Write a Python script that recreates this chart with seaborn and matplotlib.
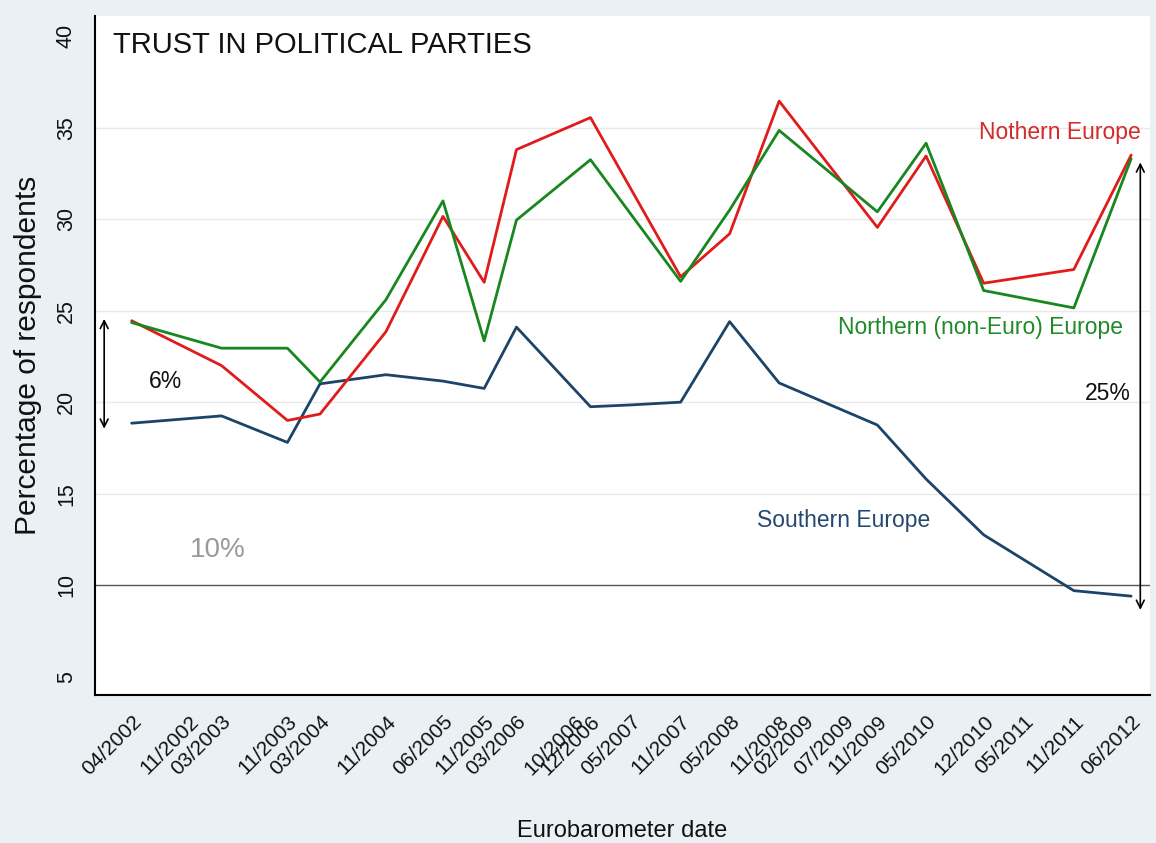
import pandas as pd
import matplotlib.pyplot as plt
import seaborn as sns

# Eurobarometer survey dates used as x ticks
tick_dates = ['2002-04', '2002-11', '2003-03', '2003-11', '2004-03', '2004-11',
              '2005-06', '2005-11', '2006-03', '2006-10', '2006-12', '2007-05',
              '2007-11', '2008-05', '2008-11', '2009-02', '2009-07', '2009-11',
              '2010-05', '2010-12', '2011-05', '2011-11', '2012-06']

# series
south_dates = ['2002-04', '2003-03', '2003-11', '2004-03', '2004-11', '2005-06',
               '2005-11', '2006-03', '2006-12', '2007-05', '2007-11', '2008-05',
               '2008-11', '2009-11', '2010-05', '2010-12', '2011-11', '2012-06']
south_vals = [18.85, 19.25, 17.8, 21.0, 21.5, 21.15, 20.75, 24.1, 19.75, 19.85,
              20.0, 24.4, 21.05, 18.75, 15.8, 12.75, 9.7, 9.4]

north_dates = ['2002-04', '2003-03', '2003-11', '2004-03', '2004-11', '2005-06',
               '2005-11', '2006-03', '2006-12', '2007-11', '2008-05', '2008-11',
               '2009-11', '2010-05', '2010-12', '2011-11', '2012-06']
north_vals = [24.45, 22.0, 19.0, 19.35, 23.85, 30.15, 26.55, 33.8, 35.55, 26.85,
              29.2, 36.45, 29.55, 33.45, 26.5, 27.25, 33.5]

noneuro_dates = ['2002-04', '2003-03', '2003-11', '2004-03', '2004-11', '2005-06',
                 '2005-11', '2006-03', '2006-12', '2007-11', '2008-05', '2008-11',
                 '2009-11', '2010-05', '2010-12', '2011-11', '2012-06']
noneuro_vals = [24.35, 22.95, 22.95, 21.1, 25.6, 31.0, 23.35, 29.95, 33.25, 26.6,
                30.5, 34.85, 30.4, 34.15, 26.1, 25.15, 33.3]

series_names = ['Southern Europe', 'Nothern Europe', 'Northern (non-Euro) Europe']
colors = {'Southern Europe': '#1c4468',
          'Nothern Europe': '#e01b1b',
          'Northern (non-Euro) Europe': '#17871f'}

frames = []
for name, d, v in zip(series_names,
                      [south_dates, north_dates, noneuro_dates],
                      [south_vals, north_vals, noneuro_vals]):
    frames.append(pd.DataFrame({'date': pd.to_datetime(d), 'value': v, 'serie': name}))
df = pd.concat(frames, ignore_index=True)

sns.set_style('white')
plt.rcParams['font.family'] = ['Liberation Sans', 'DejaVu Sans']

fig = plt.figure(figsize=(11.56, 8.43), dpi=100)
fig.patch.set_facecolor('#eaf1f4')
ax = fig.add_axes([0.0822, 0.1756, 0.9126, 0.8054])
ax.set_facecolor('white')

sns.lineplot(data=df, x='date', y='value', hue='serie', palette=colors,
             linewidth=2.0, ax=ax, legend=False, sort=False)

# 10% reference line
ax.axhline(10, color='#555555', lw=1.0, zorder=1)

ax.set_ylim(4.0, 41.1)
ax.set_xlim(pd.Timestamp('2001-11-16'), pd.Timestamp('2012-08-10'))
ax.set_yticks([5, 10, 15, 20, 25, 30, 35, 40])
ax.grid(axis='y', color='#e9e9e9', lw=1.0)
ax.set_axisbelow(True)
gl = ax.get_ygridlines()
gl[0].set_visible(False)
gl[1].set_visible(False)
gl[-1].set_visible(False)

ticks = pd.to_datetime(tick_dates)
ax.set_xticks(ticks)
ax.set_xticklabels([t.strftime('%m/%Y') for t in ticks], rotation=45,
                   ha='right', rotation_mode='anchor', fontsize=15)
ax.tick_params(axis='x', length=8, width=1.2, color='black', labelcolor='#111111', pad=4)
ax.tick_params(axis='y', length=9, width=1.2, color='black', labelcolor='#111111',
               labelsize=15.5, labelrotation=90, pad=4)
for lab in ax.get_yticklabels():
    lab.set_verticalalignment('center')

for s in ['top', 'right']:
    ax.spines[s].set_visible(False)
for s in ['left', 'bottom']:
    ax.spines[s].set_color('black')
    ax.spines[s].set_linewidth(1.5)

ax.set_xlabel('Eurobarometer date', fontsize=17, labelpad=30, color='#111111')
ax.set_ylabel('Percentage of respondents', fontsize=21.5, labelpad=10, color='#111111')

ax.text(0.017, 0.957, 'TRUST IN POLITICAL PARTIES', transform=ax.transAxes,
        fontsize=21, va='center', ha='left', color='#111111')

ax.text(pd.Timestamp('2012-07-05'), 34.75, 'Nothern Europe', color='#d42a2a',
        fontsize=16.5, ha='right', va='center')
ax.text(pd.Timestamp('2012-05-01'), 24.1, 'Northern (non-Euro) Europe', color='#1f8a27',
        fontsize=16.5, ha='right', va='center')
ax.text(pd.Timestamp('2008-08-10'), 13.55, 'Southern Europe', color='#24496e',
        fontsize=16.5, ha='left', va='center')
ax.text(pd.Timestamp('2002-06-05'), 21.15, '6%', color='#111111', fontsize=16.5,
        ha='left', va='center')
ax.text(pd.Timestamp('2002-11-05'), 11.9, '10%', color='#9a9a9a', fontsize=20,
        ha='left', va='center')
ax.text(pd.Timestamp('2012-06-01'), 20.5, '25%', color='#111111', fontsize=16.5,
        ha='right', va='center')

# double-headed gap arrows
ax.annotate('', xy=(pd.Timestamp('2001-12-20'), 18.55), xytext=(pd.Timestamp('2001-12-20'), 24.55),
            arrowprops=dict(arrowstyle='<->', color='black', lw=1.2, mutation_scale=14,
                            shrinkA=0, shrinkB=0))
ax.annotate('', xy=(pd.Timestamp('2012-07-05'), 8.65), xytext=(pd.Timestamp('2012-07-05'), 33.1),
            arrowprops=dict(arrowstyle='<->', color='black', lw=1.2, mutation_scale=14,
                            shrinkA=0, shrinkB=0))

fig.savefig('out.png', dpi=100, facecolor=fig.get_facecolor())
